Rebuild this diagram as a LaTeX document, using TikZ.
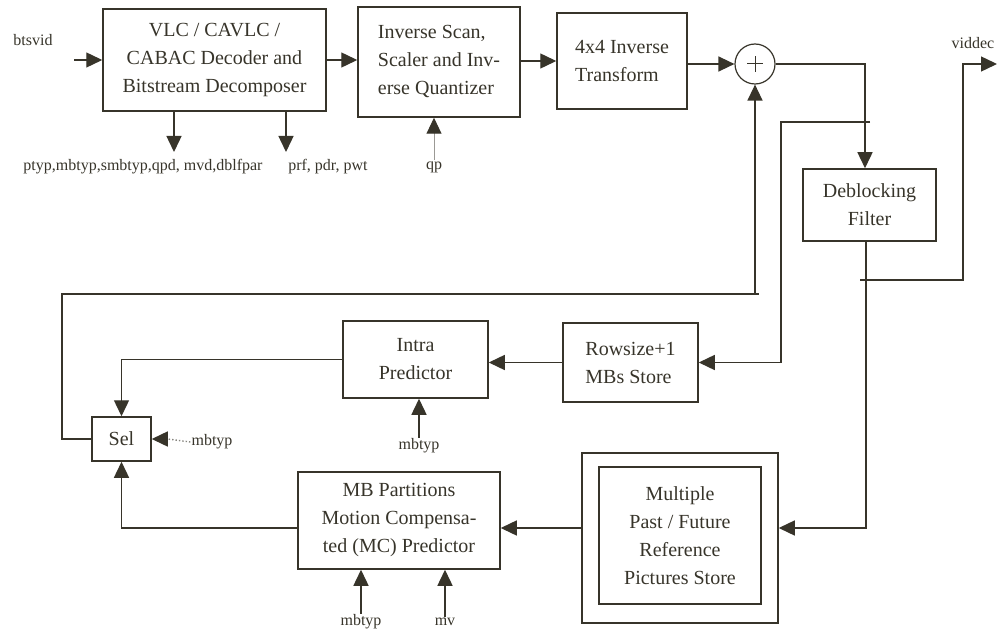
\documentclass[tikz,border=0pt]{standalone}
\usepackage{fontspec}
\setmainfont{Liberation Serif}
\newfontfamily\timesfam{Liberation Serif}
\usetikzlibrary{arrows.meta}
\definecolor{ink}{RGB}{55,52,42}
\tikzset{
  blk/.style={draw=ink, line width=1.5pt, inner sep=0pt, text=ink, font=\timesfam\fontsize{20}{28}\selectfont},
  lbl/.style={text=ink, inner sep=1pt, font=\timesfam\fontsize{16}{18}\selectfont},
  wire/.style={draw=ink, line width=1.4pt},
  arr/.style={-{Triangle[length=16pt,width=15pt,color=ink]}}
}
\begin{document}
\begin{tikzpicture}[x=1pt,y=-1pt]
\useasboundingbox (0,0) rectangle (998,631);

% blocks of the decoder
\node[blk, minimum width=223, minimum height=102, align=center] (vlc) at (214.5,60)
  {VLC / CAVLC /\\CABAC Decoder and\\Bitstream Decomposer};
\node[blk, minimum width=162, minimum height=110, align=left] (scan) at (439,62)
  {Inverse Scan,\\Scaler and Inv-\\erse Quantizer};
\node[blk, minimum width=130, minimum height=96, align=left] (itr) at (622,61)
  {4x4 Inverse\\Transform};
\node[draw=ink, line width=1.2pt, circle, minimum size=40] (sum) at (755,64) {};
\draw[draw=ink, line width=1pt] ([xshift=-8pt]sum.center) -- ([xshift=8pt]sum.center);
\draw[draw=ink, line width=1pt] ([yshift=-8pt]sum.center) -- ([yshift=8pt]sum.center);
\node[blk, minimum width=133, minimum height=72, align=center] (dbf) at (869.5,205)
  {Deblocking\\Filter};
\node[blk, minimum width=145, minimum height=77, align=center] (intra) at (415.5,359.5)
  {Intra\\Predictor};
\node[blk, minimum width=135, minimum height=79, align=left] (row) at (630.5,362.5)
  {Rowsize+1\\MBs Store};
\node[blk, minimum width=59, minimum height=44] (sel) at (121.5,439) {Sel};
\node[blk, minimum width=202, minimum height=97, align=center] (mc) at (399,520.5)
  {MB Partitions\\Motion Compensa-\\ted (MC) Predictor};
\node[blk, minimum width=196, minimum height=170] (ref) at (680,538) {};
\node[blk, minimum width=162, minimum height=137, align=center] (refin) at (680,535.5)
  {Multiple\\Past / Future\\Reference\\Pictures Store};

% signal names
\node[lbl] (bin) at (33,40) {btsvid};
\node[lbl] (vdl) at (973,43) {viddec};
\node[lbl] (parA) at (143,167) {ptyp,mbtyp,smbtyp,qpd, mvd,dblfpar};
\node[lbl] (parB) at (328,167) {prf, pdr, pwt};
\node[lbl] (qp) at (434,167) {qp};
\node[lbl] (mbI) at (419,446) {mbtyp};
\node[lbl] (mbS) at (212,442) {mbtyp};
\node[lbl] (mbM) at (361,622) {mbtyp};
\node[lbl] (mvM) at (445,622) {mv};

\coordinate (inA) at (74,60);
\coordinate (oA) at (174,152);
\coordinate (oB) at (286,152);
\coordinate (stap) at (865,122);
\coordinate (rturn) at (781,122);
\coordinate (dsplit) at (866,280);
\coordinate (vturn) at (963,280);
\coordinate (vout) at (997,64);
\coordinate (lturn) at (62,294);

% forward path
\draw[wire,arr] (inA) -- (inA -| vlc.west);
\draw[wire,arr] (vlc.east |- inA) -- (scan.west |- inA);
\draw[wire,arr] (scan.east |- 0,61) -- (itr.west |- 0,61);
\draw[wire,arr] (itr.east |- sum.west) -- (sum.west);
\draw[wire,arr] (oA |- vlc.south) -- (oA);
\draw[wire,arr] (oB |- vlc.south) -- (oB);
\draw[draw=ink!50, line width=1pt, arr] (qp.north) -- (qp.north |- scan.south);
\draw[wire,arr] (sum.east) -| (dbf.north -| stap);
\draw[wire,arr] ([xshift=5pt]stap) -- (rturn) |- (row.east);
\draw[wire] (dbf.south -| dsplit) -- (dsplit);
\draw[wire,arr] ([xshift=-6pt]dsplit) -- (vturn) |- (vout);
\draw[wire,arr] (dsplit) |- ([yshift=10pt]ref.east);

% prediction loop
\draw[wire,arr] (row.west) -- (row.west -| intra.east);
\draw[wire,arr] (intra.west) -| (sel.north);
\draw[wire,arr] ([yshift=10pt]ref.west) -- ([yshift=10pt]ref.west -| mc.east);
\draw[wire,arr] ([yshift=-7.5pt]mc.west) -| (sel.south);
\draw[wire] (sel.west) -| (lturn) -- ([xshift=4pt]lturn -| sum.south);
\draw[wire,arr] (lturn -| sum.south) -- (sum.south);
\draw[wire,arr] (mbI.north) -- (mbI.north |- intra.south);
\draw[draw=ink!60, line width=1.4pt, dotted] (mbS.west) -- ([xshift=16pt]sel.east);
\draw[wire,arr] ([xshift=16pt]sel.east) -- (sel.east);
\draw[wire,arr] (mbM.north) -- (mbM.north |- mc.south);
\draw[wire,arr] (mvM.north) -- (mvM.north |- mc.south);
\end{tikzpicture}
\end{document}
